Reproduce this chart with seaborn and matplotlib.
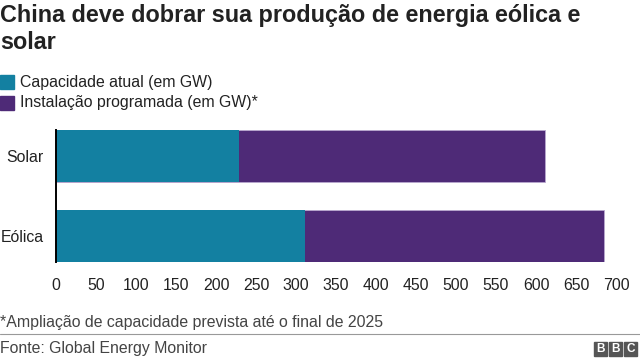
import matplotlib
matplotlib.use("Agg")
import matplotlib.pyplot as plt
import matplotlib.patches as mpatches
import seaborn as sns
import pandas as pd

categories = ["Solar", "Eólica"]
current = [229, 311]
planned = [382, 374]
xticks = [0, 50, 100, 150, 200, 250, 300, 350, 400, 450, 500, 550, 600, 650, 700]

title = "China deve dobrar sua produção de energia eólica e\nsolar"
legend_labels = ["Capacidade atual (em GW)", "Instalação programada (em GW)*"]
footnote = "*Ampliação de capacidade prevista até o final de 2025"
source = "Fonte: Global Energy Monitor"

TEAL = "#1380A1"
PURPLE = "#4E2A77"
FS = 11.4

sns.set_theme(style="white")
plt.rcParams["font.family"] = ["Liberation Sans", "DejaVu Sans"]

df = pd.DataFrame({"cat": categories, "current": current, "planned": planned})
df["total"] = df["current"] + df["planned"]

fig = plt.figure(figsize=(6.4, 3.62), dpi=100)
ax = fig.add_axes([56/640, 1 - 262.4/362, (616 - 56)/640, 132.8/362])

sns.barplot(data=df, x="total", y="cat", color=PURPLE, width=0.65, ax=ax,
            saturation=1, edgecolor="#B9A8CF", linewidth=0.6, orient="h")
sns.barplot(data=df, x="current", y="cat", color=TEAL, width=0.65, ax=ax,
            saturation=1, linewidth=0, orient="h")

ax.set_xlim(0, 700)
ax.set_ylim(1.33, -0.33)
ax.set_xticks(xticks)
ax.set_xticklabels([str(t) for t in xticks])
ax.set_xlabel("")
ax.set_ylabel("")
for s in ["top", "right", "bottom"]:
    ax.spines[s].set_visible(False)
ax.spines["left"].set_color("#000000")
ax.spines["left"].set_linewidth(1.4)
ax.tick_params(axis="x", length=0, pad=11, labelsize=FS, colors="#222222")
ax.tick_params(axis="y", length=0, pad=9, labelsize=FS, colors="#222222")

fig.text(0, 1 - 4/362, title, ha="left", va="top", fontsize=16.8,
         fontweight="bold", color="#222222", linespacing=1.2)

# legend
for i, (lab, col) in enumerate(zip(legend_labels, [TEAL, PURPLE])):
    y = 1 - (82 + i * 21)/362
    fig.patches.append(mpatches.Rectangle((0, y - 7/362), 14/640, 14/362,
                                          transform=fig.transFigure, color=col))
    fig.text(20/640, y, lab, ha="left", va="center", fontsize=FS, color="#222222")

fig.text(0, 1 - 322/362, footnote, ha="left", va="center", fontsize=FS, color="#444444")
fig.add_artist(plt.Line2D([0, 1], [1 - 334/362, 1 - 334/362], color="#999999", lw=0.8,
                          transform=fig.transFigure))
fig.text(0, 1 - 348/362, source, ha="left", va="center", fontsize=FS, color="#444444")

# BBC logo
for j, ch in enumerate("BBC"):
    x0 = (594 + j * 15)/640
    fig.patches.append(mpatches.Rectangle((x0, 1 - 356/362), 13/640, 14/362,
                                          transform=fig.transFigure, color="#555555"))
    fig.text(x0 + 6.5/640, 1 - 349/362, ch, ha="center", va="center", fontsize=8.5,
             fontweight="bold", color="white")

fig.savefig("out.png", dpi=100)
